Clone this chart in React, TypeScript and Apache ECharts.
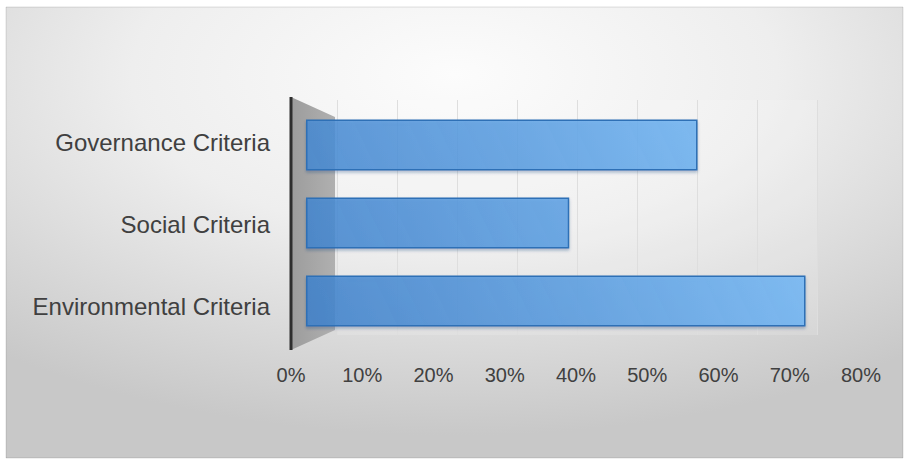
import React, { useEffect, useRef } from "react";
import * as echarts from "echarts";

const categories = ["Environmental Criteria", "Social Criteria", "Governance Criteria"];
const values = [74, 39, 58];
const axisMin = 0;
const axisMax = 80;
const axisStep = 10;

const FONT = "'Liberation Sans', Arial, sans-serif";
const TEXT = "#404040";

export default function App() {
  const ref = useRef<HTMLDivElement>(null);

  useEffect(() => {
    if (!ref.current) return;
    const chart = echarts.init(ref.current, null, { renderer: "svg" });
    const option: any = {
      animation: false,
      backgroundColor: "#ffffff",
      textStyle: { fontFamily: FONT },
      graphic: {
        elements: [
          {
            type: "rect",
            z: -100,
            shape: { x: 6, y: 7, width: 897, height: 451 },
            style: {
              fill: new echarts.graphic.RadialGradient(0.5, 0.15, 0.8, [
                { offset: 0, color: "#fcfcfc" },
                { offset: 0.45, color: "#eeeeee" },
                { offset: 1, color: "#c8c8c8" },
              ]),
              stroke: "rgba(0,0,0,0.12)",
              lineWidth: 1,
            },
          },
          {
            type: "polygon",
            z: 1,
            shape: { points: [[291, 97], [335, 117], [335, 330], [291, 350]] },
            style: {
              fill: new echarts.graphic.LinearGradient(0, 0, 1, 0, [
                { offset: 0, color: "#9c9c9c" },
                { offset: 1, color: "#b0b0b0" },
              ]),
            },
          },
          {
            type: "line",
            z: 5,
            shape: { x1: 291, y1: 97, x2: 291, y2: 350 },
            style: { stroke: "#2e2e2e", lineWidth: 3 },
          },
        ],
      },
      grid: [
        { left: 337, top: 100, width: 480, height: 235, show: true, backgroundColor: "rgba(255,255,255,0.15)", borderWidth: 0 },
        { left: 306, top: 106, width: 540, height: 234 },
        { left: 291, top: 102, width: 570, height: 245 },
      ],
      xAxis: [
        {
          gridIndex: 0, type: "value", min: axisMin, max: axisMax, interval: axisStep,
          axisLabel: { show: false }, axisLine: { show: false }, axisTick: { show: false },
          splitLine: { show: true, lineStyle: { color: "#dedede", width: 1 } },
        },
        {
          gridIndex: 1, type: "value", min: axisMin, max: axisMax, interval: axisStep,
          axisLabel: { show: false }, axisLine: { show: false }, axisTick: { show: false },
          splitLine: { show: false },
        },
        {
          gridIndex: 2, type: "value", min: axisMin, max: axisMax, interval: axisStep,
          axisLine: { show: false }, axisTick: { show: false }, splitLine: { show: false },
          axisLabel: { formatter: "{value}%", margin: 18, fontSize: 20, color: TEXT, fontFamily: FONT },
        },
      ],
      yAxis: [
        { gridIndex: 0, type: "category", data: categories, show: false },
        { gridIndex: 1, type: "category", data: categories, show: false },
        {
          gridIndex: 2, type: "category", data: categories,
          axisLine: { show: false }, axisTick: { show: false }, splitLine: { show: false },
          axisLabel: { margin: 21, fontSize: 24, color: TEXT, fontFamily: FONT },
        },
      ],
      series: [
        {
          type: "bar",
          xAxisIndex: 1,
          yAxisIndex: 1,
          data: values,
          barWidth: 51,
          z: 3,
          itemStyle: {
            color: new echarts.graphic.LinearGradient(306, 330, 760, 110, [
              { offset: 0, color: "rgba(62,130,205,0.82)" },
              { offset: 1, color: "rgba(125,190,248,0.9)" },
            ], true),
            borderColor: "#2f6fb6",
            borderWidth: 1.5,
            shadowColor: "rgba(20,60,120,0.35)",
            shadowBlur: 3,
            shadowOffsetY: 2,
          },
        },
      ],
    };
    chart.setOption(option);
    return () => chart.dispose();
  }, []);

  return (
    <div
      ref={ref}
      style={{ position: "absolute", left: 0, top: 0, width: 907, height: 462 }}
    />
  );
}
